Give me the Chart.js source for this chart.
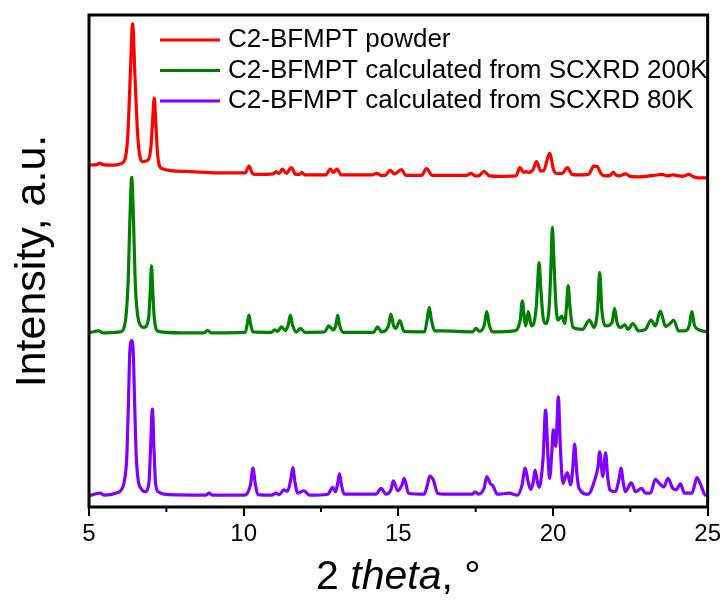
<!DOCTYPE html>
<html>
<head>
<meta charset="utf-8">
<script src="https://cdn.jsdelivr.net/npm/chart.js@4.4.1/dist/chart.umd.min.js"></script>
<style>
  html, body { margin: 0; padding: 0; background: #fff; }
  #wrap { width: 725px; height: 604px; }
</style>
</head>
<body>
<div id="wrap"><canvas id="xrd"></canvas></div>
<script>
// values (2 theta in degrees, intensity offset per trace, arbitrary units)
const seriesNames = ['C2-BFMPT powder', 'C2-BFMPT calculated from SCXRD 200K', 'C2-BFMPT calculated from SCXRD 80K'];

const powderX = [5.00, 5.25, 5.35, 5.45, 5.80, 6.10, 6.25, 6.33, 6.41, 6.49, 6.58, 6.72, 6.90, 7.00, 7.06, 7.11, 7.16, 7.22, 7.35, 8.10, 9.16, 10.05, 10.17, 10.30, 10.45, 10.95, 11.05, 11.15, 11.25, 11.38, 11.54, 11.68, 11.80, 11.88, 11.98, 12.65, 12.80, 12.90, 13.02, 13.15, 14.15, 14.30, 14.45, 14.60, 14.73, 14.88, 15.10, 15.25, 15.75, 15.91, 16.10, 17.20, 17.35, 17.50, 17.62, 17.77, 17.95, 18.26, 18.80, 18.93, 19.05, 19.12, 19.20, 19.35, 19.47, 19.60, 19.70, 19.89, 20.02, 20.12, 20.30, 20.46, 20.62, 20.78, 21.15, 21.32, 21.43, 21.55, 21.68, 21.85, 21.95, 22.05, 22.15, 22.35, 22.50, 22.77, 23.26, 23.53, 23.70, 23.87, 24.20, 24.39, 24.55, 24.71, 25.00];
const powderY = [69.5, 69.6, 69.9, 69.6, 69.5, 70.0, 75.0, 87.0, 98.2, 87.0, 75.0, 70.2, 70.5, 73.0, 79.0, 83.1, 78.0, 71.5, 68.8, 68.2, 67.9, 67.9, 69.3, 67.7, 67.6, 67.7, 68.1, 67.8, 68.7, 67.8, 69.0, 67.6, 67.6, 68.0, 67.5, 67.5, 68.7, 68.0, 68.7, 67.5, 67.5, 67.8, 67.4, 67.5, 68.4, 67.7, 68.6, 67.4, 67.4, 68.8, 67.4, 67.4, 67.8, 67.3, 67.4, 68.2, 67.3, 67.2, 67.3, 69.0, 68.0, 68.2, 68.0, 68.5, 70.2, 68.3, 68.4, 71.9, 68.5, 67.8, 67.8, 69.0, 67.6, 67.5, 67.6, 69.3, 69.2, 67.8, 67.3, 67.4, 68.0, 67.4, 67.3, 67.7, 67.2, 67.1, 67.4, 67.6, 67.3, 67.5, 67.2, 67.6, 67.1, 66.9, 66.9];

const k200X = [5.00, 5.32, 5.45, 6.00, 6.14, 6.26, 6.33, 6.38, 6.43, 6.50, 6.62, 6.78, 6.93, 6.98, 7.02, 7.06, 7.11, 7.24, 8.00, 8.72, 8.83, 8.95, 10.05, 10.12, 10.17, 10.22, 10.30, 10.90, 11.00, 11.10, 11.22, 11.35, 11.44, 11.51, 11.58, 11.70, 11.84, 11.98, 12.62, 12.75, 12.90, 12.98, 13.04, 13.10, 13.22, 14.20, 14.33, 14.45, 14.68, 14.76, 14.84, 14.92, 15.05, 15.18, 15.85, 15.93, 16.00, 16.07, 16.18, 16.38, 17.40, 17.51, 17.62, 17.78, 17.86, 17.94, 18.06, 18.74, 18.94, 19.01, 19.08, 19.12, 19.20, 19.30, 19.45, 19.50, 19.55, 19.61, 19.68, 19.76, 19.88, 19.94, 19.98, 20.03, 20.10, 20.17, 20.28, 20.38, 20.44, 20.49, 20.55, 20.65, 20.95, 21.18, 21.32, 21.44, 21.51, 21.58, 21.72, 21.91, 21.99, 22.07, 22.18, 22.32, 22.43, 22.58, 22.77, 22.99, 23.17, 23.31, 23.47, 23.64, 23.77, 23.90, 24.06, 24.28, 24.41, 24.49, 24.57, 24.69, 25.00];
const k200Y = [35.4, 35.8, 35.4, 35.6, 36.6, 45.0, 60.0, 67.0, 60.0, 45.0, 37.5, 36.5, 38.5, 44.0, 49.0, 44.0, 38.5, 35.7, 35.4, 35.4, 35.9, 35.4, 35.5, 37.3, 39.0, 37.3, 35.6, 35.5, 36.0, 35.7, 36.6, 35.9, 37.0, 39.0, 37.0, 35.6, 36.3, 35.5, 35.6, 36.8, 36.0, 37.0, 39.0, 37.0, 35.5, 35.5, 36.6, 35.6, 36.8, 39.2, 37.0, 36.3, 37.9, 35.7, 35.6, 38.0, 40.6, 38.0, 35.8, 35.8, 35.6, 36.3, 35.7, 37.0, 39.7, 37.0, 35.6, 35.8, 38.0, 41.9, 38.0, 36.8, 39.7, 36.8, 40.0, 45.0, 49.7, 44.0, 38.5, 37.3, 41.0, 50.0, 56.9, 50.0, 40.5, 38.0, 38.8, 37.3, 41.0, 45.0, 40.5, 36.5, 36.1, 38.0, 36.5, 40.0, 47.7, 40.0, 36.8, 37.5, 40.4, 37.5, 36.5, 37.0, 36.1, 37.3, 35.8, 36.1, 38.0, 36.8, 39.8, 36.7, 37.2, 38.0, 35.8, 35.8, 37.0, 39.7, 37.0, 36.1, 35.6];

const k80X = [5.00, 5.35, 5.50, 5.90, 6.05, 6.15, 6.22, 6.27, 6.32, 6.38, 6.43, 6.48, 6.53, 6.59, 6.70, 6.81, 6.94, 6.99, 7.05, 7.10, 7.15, 7.24, 7.60, 8.78, 8.88, 9.00, 10.03, 10.22, 10.30, 10.38, 10.46, 10.90, 11.05, 11.15, 11.30, 11.42, 11.52, 11.59, 11.66, 11.75, 11.95, 12.13, 12.72, 12.88, 12.97, 13.04, 13.10, 13.16, 13.25, 14.28, 14.44, 14.60, 14.76, 14.84, 14.98, 15.12, 15.19, 15.33, 15.84, 15.94, 16.02, 16.13, 16.27, 16.48, 17.40, 17.47, 17.59, 17.77, 17.86, 17.97, 18.06, 18.20, 18.58, 18.85, 19.00, 19.10, 19.20, 19.28, 19.36, 19.42, 19.50, 19.55, 19.68, 19.76, 19.84, 19.89, 19.96, 20.01, 20.09, 20.13, 20.17, 20.24, 20.32, 20.46, 20.57, 20.64, 20.70, 20.77, 20.84, 21.14, 21.35, 21.45, 21.51, 21.61, 21.70, 21.77, 21.84, 22.02, 22.13, 22.20, 22.27, 22.34, 22.53, 22.67, 22.86, 22.99, 23.15, 23.31, 23.44, 23.58, 23.72, 23.87, 23.98, 24.12, 24.25, 24.49, 24.58, 24.65, 24.79, 24.92, 25.00];
const k80Y = [2.3, 2.8, 2.4, 2.9, 3.5, 5.5, 10.0, 20.0, 31.5, 33.8, 31.5, 20.0, 10.0, 5.5, 3.6, 3.1, 5.0, 12.0, 19.9, 12.0, 5.0, 3.1, 2.5, 2.4, 2.8, 2.4, 2.4, 4.5, 7.9, 4.5, 2.5, 2.4, 2.8, 2.5, 3.5, 3.2, 5.5, 8.0, 5.0, 2.8, 3.3, 2.4, 2.6, 4.0, 3.1, 4.8, 6.8, 4.5, 2.6, 2.6, 3.8, 2.6, 3.5, 5.3, 3.3, 4.5, 5.8, 2.8, 2.6, 4.5, 6.3, 5.5, 2.8, 2.6, 2.6, 3.1, 2.6, 3.8, 6.2, 4.8, 4.3, 2.6, 2.8, 2.4, 4.5, 7.9, 5.0, 3.6, 5.0, 7.5, 5.0, 4.0, 10.0, 19.7, 10.0, 5.8, 11.0, 15.7, 12.3, 17.0, 22.4, 12.0, 4.8, 7.0, 4.5, 8.0, 12.8, 7.0, 3.8, 2.6, 5.5, 8.0, 11.2, 6.2, 11.0, 6.0, 3.5, 3.1, 5.5, 7.9, 5.0, 3.1, 4.9, 3.1, 3.8, 2.8, 2.8, 5.6, 4.8, 4.1, 5.8, 3.8, 3.5, 4.7, 2.8, 2.8, 4.5, 6.0, 4.3, 2.4, 2.4];

const xTickLabels = ['5', '10', '15', '20', '25'];
const minorTicks = [7.5, 12.5, 17.5, 22.5];
const colors = ['#ff0000', '#008000', '#8000ff'];

function toPoints(xs, ys) {
  return xs.map(function(x, i) { return { x: x, y: ys[i] }; });
}

const FONT = '"Liberation Sans", Arial, sans-serif';

// frame, minor ticks, legend and the x title with italic "theta"
const decor = {
  id: 'decor',
  afterDraw(chart) {
    const ctx = chart.ctx;
    const a = chart.chartArea;
    const xs = chart.scales.x;
    ctx.save();
    ctx.strokeStyle = '#000';
    ctx.lineWidth = 3;
    ctx.strokeRect(a.left, a.top, a.right - a.left, a.bottom - a.top);

    ctx.lineWidth = 2;
    minorTicks.forEach(function(v) {
      const px = xs.getPixelForValue(v);
      ctx.beginPath();
      ctx.moveTo(px, a.bottom);
      ctx.lineTo(px, a.bottom + 5);
      ctx.stroke();
    });

    // legend
    ctx.font = '26px ' + FONT;
    ctx.textBaseline = 'middle';
    ctx.fillStyle = '#000';
    chart.data.datasets.forEach(function(ds, i) {
      const y = 40 + i * 30.5;
      ctx.strokeStyle = ds.borderColor;
      ctx.lineWidth = 3;
      ctx.beginPath();
      ctx.moveTo(160, y);
      ctx.lineTo(220, y);
      ctx.stroke();
      ctx.fillText(ds.label, 228, y);
    });

    // x axis title
    const parts = [['2 ', 'normal'], ['theta', 'italic'], [', °', 'normal']];
    let total = 0;
    parts.forEach(function(p) {
      ctx.font = p[1] + ' 41px ' + FONT;
      total += ctx.measureText(p[0]).width;
    });
    let x = (a.left + a.right) / 2 - total / 2;
    parts.forEach(function(p) {
      ctx.font = p[1] + ' 41px ' + FONT;
      ctx.fillText(p[0], x, 578);
      x += ctx.measureText(p[0]).width;
    });
    ctx.restore();
  }
};

document.addEventListener('DOMContentLoaded', function() {
  const ctx = document.getElementById('xrd');

  new Chart(ctx, {
    type: 'line',
    data: {
      datasets: [
        {
          label: seriesNames[0],
          data: toPoints(powderX, powderY),
          borderColor: colors[0]
        },
        {
          label: seriesNames[1],
          data: toPoints(k200X, k200Y),
          borderColor: colors[1]
        },
        {
          label: seriesNames[2],
          data: toPoints(k80X, k80Y),
          borderColor: colors[2]
        }
      ]
    },
    options: {
      responsive: true,
      maintainAspectRatio: false,
      animation: false,
      layout: { padding: { top: 15, right: 16, left: 0, bottom: 0 } },
      elements: {
        line: { borderWidth: 3.2, cubicInterpolationMode: 'monotone', borderJoinStyle: 'round', fill: false },
        point: { radius: 0 }
      },
      plugins: {
        legend: { display: false },
        tooltip: { enabled: false }
      },
      scales: {
        x: {
          type: 'linear',
          min: 5,
          max: 25,
          afterFit: function(scale) { scale.height = 97; },
          border: { display: false },
          grid: { display: true, drawOnChartArea: false, color: '#000', lineWidth: 2, tickLength: 9 },
          ticks: {
            stepSize: 5,
            color: '#000',
            padding: 4,
            maxRotation: 0,
            font: { family: FONT, size: 24 },
            callback: function(value) {
              const i = Math.round((value - 5) / 5);
              return xTickLabels[i];
            }
          }
        },
        y: {
          min: 0,
          max: 100,
          afterFit: function(scale) { scale.width = 89; },
          border: { display: false },
          grid: { display: false },
          ticks: { display: false },
          title: {
            display: true,
            text: 'Intensity, a.u.',
            color: '#000',
            padding: { top: 7, bottom: 0 },
            font: { family: FONT, size: 43 }
          }
        }
      }
    },
    plugins: [decor]
  });
});
</script>
</body>
</html>
